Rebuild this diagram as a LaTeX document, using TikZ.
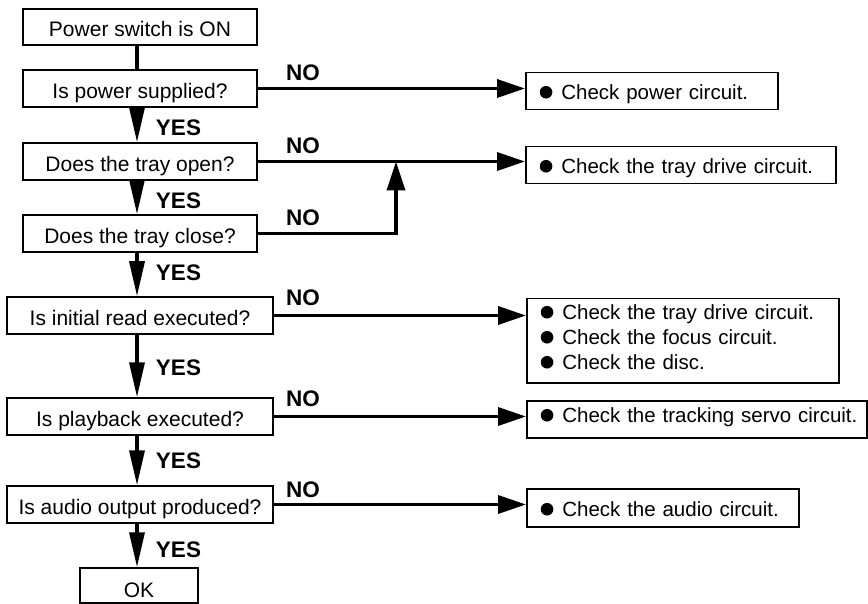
\documentclass[tikz,border=0pt]{standalone}
\usepackage{fontspec}
\setmainfont{Liberation Sans}
\usetikzlibrary{arrows.meta}
\newcommand{\bline}[1]{\mbox{\tikz[baseline=-7.5pt]\fill (0,0) circle (6.3pt);\hspace{9pt}#1}}
\begin{document}
\begin{tikzpicture}[x=1pt,y=-1pt,
  box/.style={draw, line width=1.5pt, minimum height=37pt, inner sep=0pt,
    text height=19.5pt, text depth=0pt, font=\fontsize{21}{25}\selectfont},
  rbox/.style={draw, line width=1.5pt, anchor=north west, inner xsep=14pt, inner ysep=0pt,
    align=left, font=\fontsize{20.5}{25}\selectfont},
  lbl/.style={font=\fontsize{22.5}{26}\selectfont\bfseries, inner sep=0pt},
  conn/.style={line width=3.5pt},
  varr/.style={conn, -{Triangle[length=35pt,width=15pt]}},
  harr/.style={conn, -{Triangle[length=28pt,width=18pt]}}
]
\useasboundingbox (0,0) rectangle (868,604);

% left column
\node[box, minimum width=234pt, minimum height=36pt] (b1) at (140,27) {Power switch is ON};
\node[box, minimum width=234pt] (b2) at (140,88.5) {Is power supplied?};
\node[box, minimum width=234pt] (b3) at (140,161.5) {Does the tray open?};
\node[box, minimum width=234pt] (b4) at (140,233.5) {Does the tray close?};
\node[box, minimum width=266pt] (b5) at (140,315.5) {Is initial read executed?};
\node[box, minimum width=266pt] (b6) at (140,416.5) {Is playback executed?};
\node[box, minimum width=266pt] (b7) at (140,504.5) {Is audio output produced?};
\node[box, minimum width=118pt, minimum height=35pt, text height=23pt] (ok) at (139,585.5) {OK};

% result boxes
\node[rbox, text width=224pt, text height=27pt, text depth=10pt] (r1) at (525,72) {\bline{Check power circuit.}};
\node[rbox, text width=282pt, text height=27pt, text depth=10pt] (r2) at (525,146) {\bline{Check the tray drive circuit.}};
\node[rbox, text width=284pt, text height=21pt, text depth=63pt] (r3) at (526,298)
  {\bline{Check the tray drive circuit.}\\\bline{Check the focus circuit.}\\\bline{Check the disc.}};
\node[rbox, text width=312pt, text height=22pt, text depth=15pt] (r4) at (526,400) {\bline{Check the tracking servo circuit.}};
\node[rbox, text width=244pt, text height=28pt, text depth=10pt] (r5) at (526,488) {\bline{Check the audio circuit.}};

% vertical connectors
\draw[conn] ([xshift=-3pt]b1.south) -- ([xshift=-3pt]b2.north);
\draw[varr] ([xshift=-3pt]b2.south) -- ([xshift=-3pt]b3.north);
\draw[varr] ([xshift=-3pt]b3.south) -- ([xshift=-3pt]b4.north);
\draw[varr] ([xshift=-3pt]b4.south) -- ([xshift=-3pt]b5.north);
\draw[varr] ([xshift=-3pt]b5.south) -- ([xshift=-3pt]b6.north);
\draw[varr] ([xshift=-3pt]b6.south) -- ([xshift=-3pt]b7.north);
\draw[varr] ([xshift=-3pt]b7.south) -- ([xshift=-2pt]ok.north);

% NO connectors
\draw[harr] (b2.east) -- (b2.east -| r1.west);
\draw[harr] (b3.east) -- (b3.east -| r2.west);
\coordinate (j) at (396,161.5);
\draw[conn, -{Triangle[length=29pt,width=18pt]}] (b4.east) -| (j);
\draw[harr] (b5.east) -- (b5.east -| r3.west);
\draw[harr] (b6.east) -- (b6.east -| r4.west);
\draw[harr] (b7.east) -- (b7.east -| r5.west);

% labels
\node[lbl] (y1) at (178.5,128) {YES};
\node[lbl] (y2) at (178.5,201) {YES};
\node[lbl] (y3) at (178.5,273) {YES};
\node[lbl] (y4) at (178.5,368) {YES};
\node[lbl] (y5) at (178.5,461) {YES};
\node[lbl] (y6) at (178.5,550) {YES};
\node[lbl] (n1) at (303,73) {NO};
\node[lbl] (n2) at (303,146) {NO};
\node[lbl] (n3) at (303,218) {NO};
\node[lbl] (n4) at (303,298) {NO};
\node[lbl] (n5) at (303,399) {NO};
\node[lbl] (n6) at (303,489.5) {NO};
\end{tikzpicture}
\end{document}
